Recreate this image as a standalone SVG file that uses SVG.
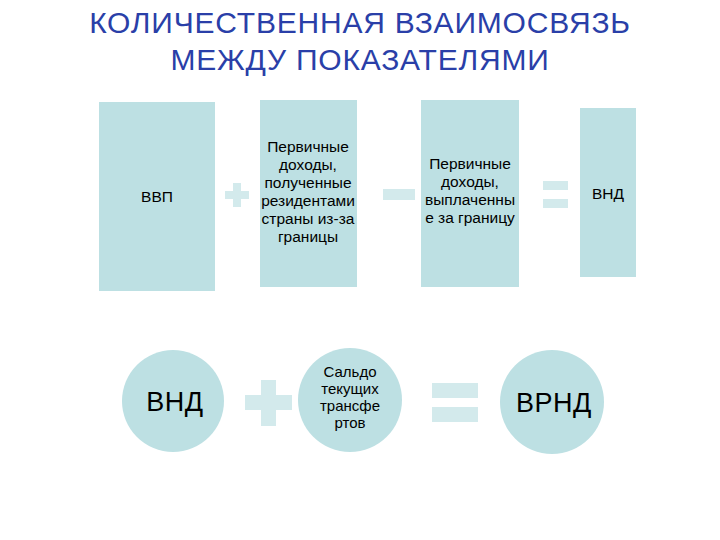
<svg xmlns="http://www.w3.org/2000/svg" width="720" height="540" viewBox="0 0 720 540">
<style>
.n{fill:#bde0e3}
.op{fill:#d3eaec}
.t{font-family:"Liberation Sans",Arial,sans-serif;font-size:15.5px;fill:#000;text-anchor:middle}
.b{font-size:27px;letter-spacing:0.5px}
.h{font-family:"Liberation Sans",Arial,sans-serif;font-size:30px;letter-spacing:0.8px;fill:#2a3fa8;text-anchor:middle}
</style>
<rect width="720" height="540" fill="#fff"/>
<text class="h" x="360" y="33">КОЛИЧЕСТВЕННАЯ ВЗАИМОСВЯЗЬ</text>
<text class="h" x="360" y="70">МЕЖДУ ПОКАЗАТЕЛЯМИ</text>
<g id="gdp"><rect class="n" x="99" y="102" width="116" height="189"/><text class="t" x="157" y="202">ВВП</text></g>
<g id="inc"><rect class="n" x="260" y="100" width="97" height="187"/><text class="t" x="308" y="152"><tspan x="308">Первичные</tspan><tspan x="308" dy="18">доходы,</tspan><tspan x="308" dy="18">полученные</tspan><tspan x="308" dy="18">резидентами</tspan><tspan x="308" dy="18">страны из-за</tspan><tspan x="308" dy="18">границы</tspan></text></g>
<g id="out"><rect class="n" x="421" y="100" width="98" height="187"/><text class="t" x="470" y="169"><tspan x="470">Первичные</tspan><tspan x="470" dy="18">доходы,</tspan><tspan x="470" dy="18">выплаченны</tspan><tspan x="470" dy="18">е за границу</tspan></text></g>
<g id="gni"><rect class="n" x="580" y="108" width="56" height="169"/><text class="t" x="608" y="199">ВНД</text></g>
<g id="gni2"><circle class="n" cx="173" cy="401" r="51"/><text class="t b" x="175" y="411">ВНД</text></g>
<g id="saldo"><circle class="n" cx="350" cy="400" r="52"/><text class="t" x="350" y="377" style="font-size:15px"><tspan x="350">Сальдо</tspan><tspan x="350" dy="17">текущих</tspan><tspan x="350" dy="17">трансфе</tspan><tspan x="350" dy="17">ртов</tspan></text></g>
<g id="grndi"><circle class="n" cx="552" cy="402" r="52"/><text class="t b" x="554" y="412">ВРНД</text></g>
<g id="connectors">
<path class="op" d="M233 183h8v8h8v8h-8v8h-8v-8h-8v-8h8z"/>
<rect class="op" x="383" y="189" width="32" height="11"/>
<rect class="op" x="543" y="181" width="25" height="9"/>
<rect class="op" x="543" y="199" width="25" height="9"/>
<path class="op" d="M261 380h15v15h16v15h-16v16h-15v-16h-16v-15h16z"/>
<rect class="op" x="432" y="383" width="46" height="15"/>
<rect class="op" x="432" y="407" width="46" height="15"/>
</g>
</svg>
